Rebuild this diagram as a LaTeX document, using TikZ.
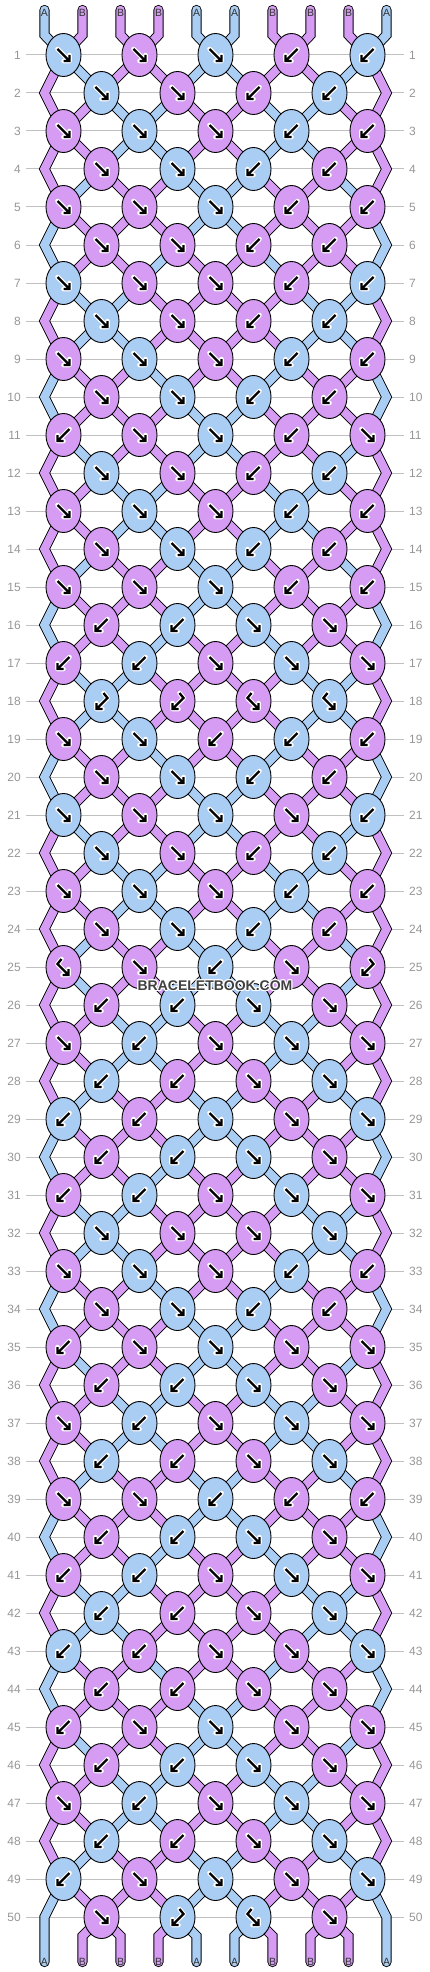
\documentclass[tikz,border=0pt]{standalone}
\usepackage{fontspec}
\setmainfont{Liberation Sans}
\usetikzlibrary{shapes.geometric}

\pgfdeclarelayer{grid}
\pgfdeclarelayer{threads}
\pgfsetlayers{grid,threads,main}

\definecolor{colA}{RGB}{170,205,244}
\definecolor{colB}{RGB}{214,156,244}
\definecolor{gridgray}{RGB}{192,192,192}
\definecolor{numgray}{RGB}{150,150,150}
\definecolor{markgray}{RGB}{64,64,64}

\newcommand\setposname[3]{%
  \ifodd#3\relax
    \pgfmathtruncatemacro\tmpk{(#2+1)/2}%
    \edef#1{k-#3-\tmpk}%
  \else
    \ifnum#2=1 \edef#1{e-#3-1}%
    \else\ifnum#2=10 \edef#1{e-#3-10}%
    \else
      \pgfmathtruncatemacro\tmpk{#2/2}%
      \edef#1{k-#3-\tmpk}%
    \fi\fi
  \fi}
\newcommand\swapst{%
  \expandafter\xdef\csname st\lp\endcsname{\rightst}%
  \expandafter\xdef\csname st\rp\endcsname{\leftst}}

\tikzset{
  knot/.style={ellipse,draw=black,line width=0.9pt,minimum width=35pt,
    minimum height=43pt,inner sep=0pt},
  thread/.style={draw=black,line width=0.9pt,double=#1,double distance=8.4pt,
    line cap=round,line join=miter},
  gridline/.style={draw=gridgray,line width=1pt},
  rownum/.style={text=numgray,inner sep=0pt,font=\fontsize{12}{12}\selectfont},
  strlab/.style={text=black!80,inner sep=0pt,font=\fontsize{10.5}{10.5}\selectfont},
  wmark/.style={inner sep=0pt,font=\fontsize{14}{14}\selectfont\bfseries},
  halo/.style={draw=white,line width=4.6pt,line cap=round,line join=round},
  arrowline/.style={draw=black,line width=2.4pt,line join=miter},
  pics/arrf/.style={code={
    \draw[halo] (-6,-6) -- (6,6) (0,6) -- (6,6) -- (6,0);
    \draw[arrowline] (-6,-6) -- (6,6) (0,6) -- (6,6) -- (6,0);}},
  pics/arrb/.style={code={
    \draw[halo] (6,-6) -- (-6,6) (0,6) -- (-6,6) -- (-6,0);
    \draw[arrowline] (6,-6) -- (-6,6) (0,6) -- (-6,6) -- (-6,0);}},
  pics/arrF/.style={code={
    \draw[halo] (-2,-8) -- (-6,-3) -- (5,8) (-1,8) -- (5,8) -- (5,2);
    \draw[arrowline] (-2,-8) -- (-6,-3) -- (5,8) (-1,8) -- (5,8) -- (5,2);}},
  pics/arrB/.style={code={
    \draw[halo] (2,-8) -- (6,-3) -- (-5,8) (1,8) -- (-5,8) -- (-5,2);
    \draw[arrowline] (2,-8) -- (6,-3) -- (-5,8) (1,8) -- (-5,8) -- (-5,2);}},
}

\begin{document}
\begin{tikzpicture}[x=1pt,y=-1pt]
\useasboundingbox (0,0) rectangle (430,1972);

% rows
\begin{pgfonlayer}{grid}
\foreach \rw in {1,...,50}{
  \pgfmathsetmacro\ry{55+38*(\rw-1)}
  \node[rownum,anchor=east] (nl-\rw) at (21,\ry) {\rw};
  \node[rownum,anchor=west] (nr-\rw) at (409,\ry) {\rw};
  \draw[gridline] (26,\ry) -- (404,\ry);
}
\end{pgfonlayer}

% strings at the top
\foreach \p/\sc in {1/A,2/B,3/B,4/B,5/A,6/A,7/B,8/B,9/B,10/A}{
  \expandafter\xdef\csname st\p\endcsname{\sc}
  \pgfmathsetmacro\sx{44.5+38*(\p-1)}
  \coordinate (ts-\p) at (\sx,10);
  \coordinate (t-\p) at (\sx,35);
  \coordinate (bb-\p) at (\sx,1936);
  \coordinate (be-\p) at (\sx,1962);
  \node[strlab] (top-\p) at (\sx,13) {\sc};
}

% knots, row by row
\foreach \rw/\ta/\tb/\tc/\td/\te in {
  1/f/f/f/b/b, 2/f/f/b/b/x, 3/f/f/f/b/b, 4/f/f/b/b/x, 5/f/f/f/b/b,
  6/f/f/b/b/x, 7/f/f/f/b/b, 8/f/f/b/b/x, 9/f/f/f/b/b, 10/f/f/b/b/x,
  11/b/f/f/b/f, 12/f/f/b/b/x, 13/f/f/f/b/b, 14/f/f/b/b/x, 15/f/f/f/b/b,
  16/b/b/f/f/x, 17/b/b/f/f/f, 18/B/B/F/F/x, 19/f/f/b/b/b, 20/f/f/b/b/x,
  21/f/f/f/f/b, 22/f/f/b/b/x, 23/f/f/f/b/b, 24/f/f/b/b/x, 25/F/f/b/f/B,
  26/b/b/f/f/x, 27/f/b/f/f/f, 28/b/b/f/f/x, 29/b/b/f/f/f, 30/b/b/f/f/x,
  31/b/b/f/f/f, 32/f/f/f/f/x, 33/f/f/f/b/b, 34/f/f/b/b/x, 35/b/f/f/f/f,
  36/b/b/f/f/x, 37/f/b/f/f/f, 38/b/b/f/f/x, 39/f/f/b/b/b, 40/b/b/f/f/x,
  41/b/b/f/f/f, 42/b/b/f/f/x, 43/b/b/f/f/f, 44/b/b/f/f/x, 45/b/f/f/f/f,
  46/b/b/f/f/x, 47/f/b/f/f/f, 48/b/b/f/f/x, 49/b/f/f/f/f, 50/f/B/F/f/x}{
  \pgfmathsetmacro\ry{55+38*(\rw-1)}
  \ifodd\rw\relax\else
    \coordinate (e-\rw-1) at (44.5,\ry);
    \coordinate (e-\rw-10) at (386.5,\ry);
  \fi
  \foreach \kn/\ty in {1/\ta,2/\tb,3/\tc,4/\td,5/\te}{
    \if\ty x\else
      \ifodd\rw\relax
        \pgfmathtruncatemacro\lp{2*\kn-1}
        \pgfmathsetmacro\kx{63.5+76*(\kn-1)}
      \else
        \pgfmathtruncatemacro\lp{2*\kn}
        \pgfmathsetmacro\kx{101.5+76*(\kn-1)}
      \fi
      \pgfmathtruncatemacro\rp{\lp+1}
      \if\ty f\edef\kc{\csname st\lp\endcsname}\fi
      \if\ty F\edef\kc{\csname st\lp\endcsname}\fi
      \if\ty b\edef\kc{\csname st\rp\endcsname}\fi
      \if\ty B\edef\kc{\csname st\rp\endcsname}\fi
      \node[knot,fill=col\kc] (k-\rw-\kn) at (\kx,\ry) {};
      \if\ty f\pic at (k-\rw-\kn) {arrf};\fi
      \if\ty b\pic at (k-\rw-\kn) {arrb};\fi
      \if\ty F\pic at (k-\rw-\kn) {arrF};\fi
      \if\ty B\pic at (k-\rw-\kn) {arrB};\fi
    \fi
  }
  \begin{pgfonlayer}{threads}
  \foreach \p in {1,...,10}{
    \edef\sc{\csname st\p\endcsname}
    \setposname\cur\p\rw
    \ifnum\rw=1
      \draw[thread=col\sc] (ts-\p) -- (t-\p) -- (\cur.center);
    \else
      \pgfmathtruncatemacro\rwp{\rw-1}
      \setposname\prv\p\rwp
      \ifnum\p=1 \def\isedge{1}\else\ifnum\p=10 \def\isedge{1}\else\def\isedge{0}\fi\fi
      \ifnum\isedge=1
        \ifodd\rw\relax
          \pgfmathtruncatemacro\rwpp{\rw-2}
          \setposname\pprv\p\rwpp
          \draw[thread=col\sc] (\pprv.center) -- (\prv) -- (\cur.center);
        \fi
      \else
        \draw[thread=col\sc] (\prv.center) -- (\cur.center);
      \fi
    \fi
  }
  \end{pgfonlayer}
  \foreach \kn/\ty in {1/\ta,2/\tb,3/\tc,4/\td,5/\te}{
    \if\ty x\else
      \ifodd\rw\relax
        \pgfmathtruncatemacro\lp{2*\kn-1}
      \else
        \pgfmathtruncatemacro\lp{2*\kn}
      \fi
      \pgfmathtruncatemacro\rp{\lp+1}
      \edef\leftst{\csname st\lp\endcsname}
      \edef\rightst{\csname st\rp\endcsname}
      \if\ty f\swapst\fi
      \if\ty b\swapst\fi
    \fi
  }
}

% strings at the bottom
\begin{pgfonlayer}{threads}
\foreach \p in {1,...,10}{
  \edef\sc{\csname st\p\endcsname}
  \ifnum\p=1
    \draw[thread=col\sc] (k-49-1.center) -- (e-50-1) -- (be-1);
  \else\ifnum\p=10
    \draw[thread=col\sc] (k-49-5.center) -- (e-50-10) -- (be-10);
  \else
    \setposname\cur\p{50}
    \draw[thread=col\sc] (\cur.center) -- (bb-\p) -- (be-\p);
  \fi\fi
}
\end{pgfonlayer}
\foreach \p in {1,...,10}{
  \edef\sc{\csname st\p\endcsname}
  \node[strlab] (bot-\p) at (be-\p) {\sc};
}

\foreach \dx/\dy [count=\i] in {-1/0,1/0,0/-1,0/1,-1/-1,1/1,-1/1,1/-1}
  \node[wmark,text=white] (wmh-\i) at (215+\dx,986+\dy) {BRACELETBOOK.COM};
\node[wmark,text=markgray] (wm) at (215,986) {BRACELETBOOK.COM};

\end{tikzpicture}
\end{document}
